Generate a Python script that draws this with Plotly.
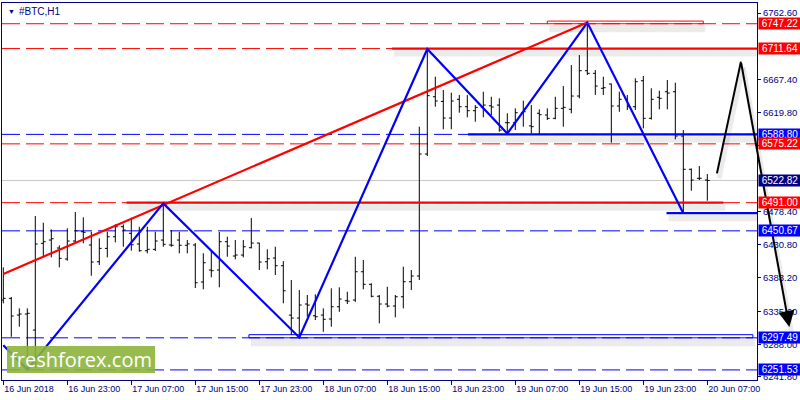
import plotly.graph_objects as go

# ---------------- data ----------------
bar_idx = list(range(89))  # hourly bars, 16 Jun 15:00 .. 20 Jun 07:00
opens = [6351.6, 6354.0, 6330.1, 6331.6, 6308.6, 6432.8, 6437.5, 6426.1, 6410.3, 6436.1,
         6449.4, 6430.4, 6406.4, 6425.6, 6442.2, 6456.6, 6447.1, 6431.8, 6422.2, 6424.2,
         6437.5, 6430.4, 6437.5, 6430.0, 6430.4, 6377.4, 6394.6, 6394.6, 6435.1, 6414.6,
         6416.0, 6426.5, 6433.2, 6406.4, 6411.7, 6400.7, 6330.0, 6325.8, 6345.9, 6329.1,
         6330.1, 6324.4, 6342.0, 6350.6, 6351.6, 6392.1, 6374.1, 6357.0, 6345.9, 6343.0,
         6356.3, 6377.8, 6386.0, 6560.7, 6642.7, 6636.0, 6612.2, 6639.0, 6628.4, 6622.7,
         6627.5, 6629.8, 6630.8, 6605.5, 6605.5, 6619.8, 6601.0, 6619.0, 6616.5, 6611.8,
         6626.1, 6624.7, 6643.7, 6680.0, 6676.2, 6654.8, 6660.9, 6629.4, 6639.0, 6628.4,
         6665.6, 6611.8, 6641.9, 6649.9, 6649.9, 6586.4, 6538.8, 6525.9, 6523.4]
highs = [6398.4, 6356.0, 6339.7, 6339.7, 6471.9, 6462.3, 6452.8, 6429.9, 6454.3, 6477.6,
         6470.0, 6449.4, 6440.0, 6449.4, 6460.0, 6460.0, 6469.5, 6456.6, 6456.6, 6449.4,
         6490.0, 6451.8, 6449.4, 6437.5, 6433.2, 6418.5, 6423.2, 6449.0, 6442.2, 6437.5,
         6437.5, 6469.0, 6433.5, 6424.2, 6427.9, 6407.4, 6380.2, 6365.9, 6358.8, 6359.8,
         6339.7, 6368.4, 6369.8, 6363.5, 6413.6, 6408.9, 6375.5, 6358.8, 6370.6, 6358.8,
         6399.3, 6394.6, 6599.8, 6711.0, 6671.4, 6652.3, 6648.5, 6645.2, 6645.2, 6630.8,
         6649.9, 6642.7, 6640.4, 6619.0, 6626.1, 6637.0, 6630.8, 6624.7, 6626.1, 6642.7,
         6658.0, 6688.1, 6702.4, 6749.0, 6681.0, 6671.4, 6661.5, 6649.9, 6645.2, 6669.1,
         6672.4, 6654.8, 6651.3, 6666.6, 6662.8, 6595.0, 6540.0, 6543.5, 6532.0]
lows = [6346.9, 6299.0, 6313.4, 6254.2, 6254.2, 6412.7, 6412.7, 6398.4, 6407.9, 6432.8,
        6432.8, 6386.4, 6401.7, 6412.7, 6434.2, 6427.9, 6422.2, 6420.8, 6418.5, 6421.8,
        6427.9, 6427.9, 6418.5, 6418.5, 6368.8, 6366.9, 6384.1, 6369.8, 6413.6, 6409.9,
        6412.7, 6425.6, 6394.6, 6395.6, 6387.4, 6346.9, 6301.5, 6298.0, 6327.7, 6323.0,
        6306.2, 6313.4, 6334.8, 6345.9, 6349.0, 6366.9, 6355.5, 6318.2, 6341.1, 6326.8,
        6339.7, 6365.9, 6380.2, 6557.8, 6628.4, 6596.0, 6596.0, 6619.8, 6613.2, 6606.9,
        6613.2, 6616.5, 6592.6, 6590.3, 6595.0, 6599.8, 6590.3, 6589.3, 6609.4, 6610.4,
        6599.8, 6619.0, 6640.4, 6673.8, 6645.2, 6645.2, 6576.9, 6621.2, 6623.7, 6623.7,
        6597.5, 6610.0, 6624.7, 6624.7, 6581.7, 6476.6, 6508.1, 6523.4, 6493.8]
closes = [6354.0, 6328.7, 6331.6, 6332.6, 6431.8, 6435.1, 6439.4, 6411.3, 6436.1, 6450.8,
          6448.6, 6406.0, 6425.6, 6442.2, 6456.6, 6451.8, 6430.8, 6422.2, 6424.2, 6436.1,
          6431.4, 6430.0, 6430.0, 6432.0, 6376.4, 6405.0, 6393.6, 6435.1, 6428.9, 6416.0,
          6427.9, 6433.2, 6406.0, 6410.7, 6400.7, 6364.9, 6325.8, 6344.4, 6344.4, 6327.7,
          6324.0, 6342.0, 6353.0, 6350.0, 6392.1, 6374.1, 6357.0, 6345.9, 6343.0, 6356.3,
          6377.8, 6386.0, 6560.7, 6644.2, 6636.6, 6612.2, 6636.6, 6628.4, 6622.7, 6627.5,
          6630.8, 6628.0, 6595.0, 6605.5, 6619.8, 6621.2, 6599.8, 6617.0, 6611.8, 6626.1,
          6627.5, 6643.7, 6680.0, 6676.2, 6658.0, 6655.6, 6629.4, 6639.0, 6628.4, 6664.2,
          6611.8, 6639.0, 6640.4, 6648.0, 6586.4, 6538.8, 6523.4, 6525.9, 6522.82]

x_tick_idx = [0, 8, 16, 24, 32, 40, 48, 56, 64, 72, 80, 88]
x_tick_labels = ["16 Jun 2018", "16 Jun 23:00", "17 Jun 07:00", "17 Jun 15:00",
                 "17 Jun 23:00", "18 Jun 07:00", "18 Jun 15:00", "18 Jun 23:00",
                 "19 Jun 07:00", "19 Jun 15:00", "19 Jun 23:00", "20 Jun 07:00"]
y_ticks = [6762.60, 6667.40, 6619.80, 6572.20, 6478.40, 6430.80, 6383.20, 6335.60,
           6288.00, 6241.80]

# horizontal levels
red_dashed_levels = [6747.22, 6711.64, 6575.22, 6491.00]
blue_dashed_levels = [6588.80, 6450.67, 6297.49, 6251.53]
bid_level = 6522.82

# solid trend-line segments: (start bar, end bar, price, colour)
seg_start = [48.6, 58.1, 15.4, 82.9]
seg_end = [95.0, 95.0, 90.0, 95.0]
seg_price = [6711.64, 6588.80, 6491.00, 6476.0]
seg_color = ["#FF0000", "#0000FF", "#FF0000", "#0000FF"]

# rectangles (bar0, bar1, price0, price1, colour)
rect_x0 = [68.0, 30.7]
rect_x1 = [87.5, 93.7]
rect_p0 = [6747.22, 6297.49]
rect_p1 = [6751.0, 6302.0]
rect_color = ["#FF0000", "#0000FF"]

# zigzag & trend line
zig_x = [0, 3, 20, 37, 53, 63, 73, 85]
zig_p = [6287.0, 6252.0, 6490.0, 6298.0, 6711.0, 6590.0, 6749.0, 6476.0]
trend_x = [0, 73]
trend_p = [6389.0, 6749.0]

# black forecast arrow
arrow_x = [89.2, 92.2, 98.25]
arrow_p = [6533.0, 6693.0, 6313.0]

# right-axis price labels
label_vals = [6747.22, 6711.64, 6588.80, 6575.22, 6522.82, 6491.00, 6450.67, 6297.49, 6251.53]
label_bg = ["#FF0000", "#FF0000", "#0000FF", "#FF0000", "#000080", "#FF0000", "#0000FF",
            "#0000FF", "#0000FF"]

# ---------------- layout constants ----------------
W, H = 800, 400
ML, MR, MT, MB = 2, 43, 3, 20
PW, PH = W - ML - MR, H - MT - MB
XR = [-0.1625, 94.21]
YR = [6237.1, 6776.92]
NAVY = "#000080"
FONT = "Liberation Sans"
DX = (XR[1] - XR[0]) / PW   # bars per pixel
DY = (YR[1] - YR[0]) / PH   # price per pixel
SH = "rgba(0,0,0,0.08)"

fig = go.Figure()

def shadow_line(xs, ps, width=6):
    fig.add_trace(go.Scatter(x=[x + 2 * DX for x in xs], y=[p - 5 * DY for p in ps],
                             mode="lines", line=dict(color=SH, width=width),
                             hoverinfo="skip", showlegend=False))

# shadows
for a, b, p in zip(seg_start, seg_end, seg_price):
    shadow_line([a, b], [p, p])
for a, b, p0, p1 in zip(rect_x0, rect_x1, rect_p0, rect_p1):
    shadow_line([a, b], [p0, p0], width=7)
shadow_line(arrow_x[:2], arrow_p[:2], width=5)

# dashed horizontal lines + bid line
shapes = []
for v in red_dashed_levels:
    shapes.append(dict(type="line", xref="paper", x0=0, x1=1, yref="y", y0=v, y1=v,
                       line=dict(color="#FF0000", width=1, dash="18px,6px"), layer="below"))
for v in blue_dashed_levels:
    shapes.append(dict(type="line", xref="paper", x0=0, x1=1, yref="y", y0=v, y1=v,
                       line=dict(color="#0000FF", width=1, dash="18px,6px"), layer="below"))
shapes.append(dict(type="line", xref="paper", x0=0, x1=1, yref="y", y0=bid_level, y1=bid_level,
                   line=dict(color="#C8C8C8", width=1), layer="below"))

for a, b, p0, p1, c in zip(rect_x0, rect_x1, rect_p0, rect_p1, rect_color):
    shapes.append(dict(type="rect", xref="x", yref="y", x0=a, x1=b, y0=p0, y1=p1,
                       line=dict(color=c, width=1), fillcolor="rgba(255,255,255,0)"))

# OHLC bars
fig.add_trace(go.Ohlc(x=bar_idx, open=opens, high=highs, low=lows, close=closes,
                      increasing=dict(line=dict(color="black", width=1)),
                      decreasing=dict(line=dict(color="black", width=1)),
                      tickwidth=0.3, hoverinfo="skip", showlegend=False))

# solid segments
for a, b, p, c in zip(seg_start, seg_end, seg_price, seg_color):
    fig.add_trace(go.Scatter(x=[a, b], y=[p, p], mode="lines", line=dict(color=c, width=2.2),
                             hoverinfo="skip", showlegend=False))

# trend + zigzag
fig.add_trace(go.Scatter(x=trend_x, y=trend_p, mode="lines", line=dict(color="#FF0000", width=2.2),
                         hoverinfo="skip", showlegend=False))
fig.add_trace(go.Scatter(x=zig_x, y=zig_p, mode="lines", line=dict(color="#0000FF", width=2.2),
                         hoverinfo="skip", showlegend=False))

# first segment of forecast arrow
fig.add_trace(go.Scatter(x=arrow_x[:2], y=arrow_p[:2], mode="lines",
                         line=dict(color="black", width=2), hoverinfo="skip", showlegend=False))

annotations = []
# arrow shadow + arrow to the target
annotations.append(dict(x=arrow_x[2] + 2 * DX, y=arrow_p[2] - 5 * DY, xref="x", yref="y",
                        ax=arrow_x[1] + 2 * DX, ay=arrow_p[1] - 5 * DY, axref="x", ayref="y",
                        showarrow=True, arrowhead=0, arrowwidth=5, arrowcolor=SH, text=""))
annotations.append(dict(x=arrow_x[2], y=arrow_p[2], xref="x", yref="y",
                        ax=arrow_x[1], ay=arrow_p[1], axref="x", ayref="y",
                        showarrow=True, arrowhead=2, arrowsize=1.6, arrowwidth=2,
                        arrowcolor="black", text=""))

# price labels on the right axis
for v, bg in zip(label_vals, label_bg):
    annotations.append(dict(x=1, xref="paper", xanchor="left", xshift=1, y=v, yref="y",
                            yanchor="middle", text=f"{v:.2f}", showarrow=False,
                            bgcolor=bg, width=42, height=11, borderpad=0, align="center",
                            font=dict(color="white", size=10, family=FONT)))

# title at top-left
annotations.append(dict(x=0, y=1, xref="paper", yref="paper", xanchor="left", yanchor="top",
                        xshift=4, yshift=-3, text="▼", showarrow=False,
                        font=dict(color=NAVY, size=7, family=FONT)))
annotations.append(dict(x=0, y=1, xref="paper", yref="paper", xanchor="left", yanchor="top",
                        xshift=15, yshift=-1, text="#BTC,H1", showarrow=False,
                        font=dict(color=NAVY, size=10, family=FONT)))

# freshforex logo
shapes.append(dict(type="rect", xref="paper", yref="paper",
                   x0=(7 - ML) / PW, x1=(155 - ML) / PW,
                   y0=1 - (373 - MT) / PH, y1=1 - (346 - MT) / PH,
                   line=dict(width=0), fillcolor="rgba(140,180,60,0.9)", layer="above"))
annotations.append(dict(x=(81 - ML) / PW, y=1 - (359.5 - MT) / PH, xref="paper", yref="paper",
                        xanchor="center", yanchor="middle",
                        text="freshforex.com", showarrow=False,
                        font=dict(color="white", size=20, family="Open Sans")))

fig.update_layout(
    width=W, height=H, margin=dict(l=ML, r=MR, t=MT, b=MB),
    paper_bgcolor="white", plot_bgcolor="white", showlegend=False,
    shapes=shapes, annotations=annotations,
    xaxis=dict(range=XR, showgrid=False, zeroline=False, showline=True, mirror=True,
               linecolor=NAVY, linewidth=1, ticks="outside", ticklen=4, tickcolor=NAVY,
               tickvals=x_tick_idx, ticktext=x_tick_labels, ticklabelposition="outside right",
               tickfont=dict(color=NAVY, size=9, family=FONT),
               rangeslider=dict(visible=False), fixedrange=True),
    yaxis=dict(range=YR, side="right", showgrid=False, zeroline=False, showline=True,
               mirror=True, linecolor=NAVY, linewidth=1, ticks="outside", ticklen=3,
               tickcolor=NAVY, tickvals=y_ticks, ticktext=[f"{v:.2f}" for v in y_ticks],
               tickfont=dict(color=NAVY, size=9.5, family=FONT), fixedrange=True),
)

fig.write_html("out.html", config={"displayModeBar": False},
               post_script="document.body.style.margin='0';document.body.style.overflow='hidden';")
